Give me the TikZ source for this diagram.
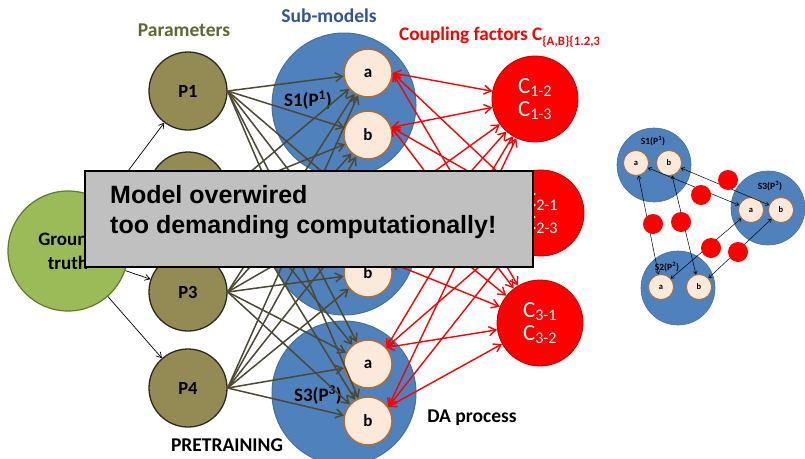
\documentclass[tikz,border=0pt]{standalone}
\usepackage{fontspec}
\setmainfont{Carlito}
\newfontfamily\arialfont{Liberation Sans}
\usetikzlibrary{arrows.meta}
\definecolor{gtfill}{HTML}{9BBB59}
\definecolor{gtdraw}{HTML}{5F7A2E}
\definecolor{pfill}{HTML}{948A54}
\definecolor{pdraw}{HTML}{2B2B22}
\definecolor{sfill}{HTML}{4F81BD}
\definecolor{sdraw}{HTML}{41719C}
\definecolor{subfill}{HTML}{FDE9D9}
\definecolor{subdraw}{HTML}{B46A2A}
\definecolor{olivelink}{HTML}{4D4832}
\definecolor{cdraw}{HTML}{C00000}
\definecolor{paramcol}{HTML}{5E6930}
\definecolor{subcol}{HTML}{2F5597}
\definecolor{boxfill}{HTML}{C0C0C0}
\tikzset{
  gtnode/.style={circle,fill=gtfill,draw=gtdraw,line width=1.2pt,minimum size=120pt,inner sep=0pt,font=\bfseries\fontsize{19}{24}\selectfont,align=center},
  pnode/.style={circle,fill=pfill,draw=pdraw,line width=1.3pt,minimum size=78pt,inner sep=0pt,font=\bfseries\fontsize{18.5}{20}\selectfont},
  smod/.style={circle,fill=sfill,draw=sdraw,line width=1pt,minimum size=144pt,inner sep=0pt},
  subnode/.style={circle,fill=subfill,draw=subdraw,line width=1.4pt,minimum size=48pt,inner sep=0pt,font=\bfseries\fontsize{17}{20}\selectfont},
  cnode/.style={circle,fill=red,draw=cdraw,line width=0.8pt,minimum size=86pt,inner sep=0pt,text=white,align=center,font=\fontsize{23}{23}\selectfont},
  slabel/.style={font=\bfseries\fontsize{19}{20}\selectfont,inner sep=0pt},
  oarrow/.style={draw=olivelink,line width=1.5pt,-{Straight Barb[length=7pt,width=9pt]}},
  rarrow/.style={draw=red,line width=1.4pt,{Straight Barb[length=7pt,width=9pt]}-{Straight Barb[length=7pt,width=9pt]}},
  garrow/.style={draw=black,line width=0.7pt,-{Straight Barb[length=5pt,width=6pt]}},
  rsmod/.style={circle,fill=sfill,draw=sdraw,line width=0.6pt,minimum size=74pt,inner sep=0pt},
  rsub/.style={circle,fill=subfill,draw=subdraw,line width=0.8pt,minimum size=25pt,inner sep=0pt,font=\bfseries\fontsize{8.5}{9}\selectfont},
  rdot/.style={circle,fill=red,draw=none,minimum size=20pt,inner sep=0pt},
  rlabel/.style={font=\bfseries\fontsize{9.5}{10}\selectfont,inner sep=0pt},
  rlink/.style={draw=black,line width=0.5pt,{Straight Barb[length=3pt,width=4pt]}-{Straight Barb[length=3pt,width=4pt]}},
  heading/.style={font=\bfseries\fontsize{19.5}{22}\selectfont,inner sep=0pt}
}
\begin{document}
\begin{tikzpicture}[x=1pt,y=-1pt]
\path[use as bounding box,fill=white] (0,0) rectangle (805,458);
% sub-model circles
\node[smod] (S1) at (344,105) {};
\node[smod] (S2) at (344,243) {};
\node[smod] (S3) at (344,393) {};
\node[slabel] (S1l) at (308,100) {S1(P\textsuperscript{1})};
\node[slabel] (S3l) at (318,395) {S3(P\textsuperscript{3})};
% sub nodes
\node[subnode] (S1a) at (368,73) {a};
\node[subnode] (S1b) at (368,135) {b};
\node[subnode] (S2a) at (368,211) {};
\node[subnode] (S2b) at (368,273) {b};
\node[subnode] (S3a) at (368,364) {a};
\node[subnode] (S3b) at (368,421) {b};
% parameters
\node[pnode] (P1) at (188,91) {P1};
\node[pnode] (P2) at (188,191) {};
\node[pnode] (P3) at (188,292) {P3};
\node[pnode] (P4) at (188,388) {P4};
% coupling nodes
\node[cnode] (C1) at (535,99) {C\textsubscript{1-2}\\C\textsubscript{1-3}};
\node[cnode] (C2) at (541,213) {C\textsubscript{2-1}\\C\textsubscript{2-3}};
\node[cnode] (C3) at (540,323) {C\textsubscript{3-1}\\C\textsubscript{3-2}};
% olive arrows
\foreach \p in {P1,P2,P3,P4}
  \foreach \s in {S1a,S1b,S2a,S2b,S3a,S3b}
    \draw[oarrow] (\p.east) -- (\s);
% red arrows
\foreach \s/\ang in {S1a/0,S1b/18,S2a/20,S2b/25,S3a/42,S3b/35}
  \foreach \c in {C1,C2,C3}
    \draw[rarrow] (\s.\ang) -- (\c);
% ground truth
\node[gtnode] (GT) at (68,251) {Ground\\truth};
\foreach \p in {P1,P2,P3,P4}
  \draw[garrow] (GT) -- (\p);
% headings
\node[heading,text=paramcol] (hpar) at (184,30) {Parameters};
\node[heading,text=subcol] (hsub) at (329,16) {Sub-models};
\begin{scope}
\clip (380,0) rectangle (598,60);
\node[heading,text=red,anchor=west,font=\bfseries\fontsize{19.2}{22}\selectfont] (hcoup) at (399,37) {Coupling factors C\raisebox{-4.5pt}{\fontsize{12.8}{14}\selectfont\{A,B\}\{1.2,3\}}};
\end{scope}
\node[heading,font=\bfseries\fontsize{19.5}{20}\selectfont] (hpre) at (227,445) {PRETRAINING};
\node[heading,font=\bfseries\fontsize{19.5}{20}\selectfont] (hda) at (472,418) {DA process};
% overlay box
\node[draw=black,line width=2.5pt,fill=boxfill,minimum width=448pt,minimum height=96pt,inner sep=0pt] (box) at (309,219) {};
\node[anchor=west,align=left,inner sep=0pt,font=\arialfont\bfseries\fontsize{25}{30}\selectfont] (boxtext) at (110,212) {Model overwired\\too demanding computationally!};
% right diagram
\node[rsmod] (R1) at (654,165) {};
\node[rsmod] (R3) at (768,208) {};
\node[rsmod] (R2) at (678,288) {};
\node[rlabel] (R1l) at (653,141) {S1(P\textsuperscript{1})};
\node[rlabel] (R3l) at (770,186) {S3(P\textsuperscript{3})};
\node[rlabel] (R2l) at (667,267) {S2(P\textsuperscript{2})};
\node[rsub] (R1a) at (636,163) {a};
\node[rsub] (R1b) at (669,163) {b};
\node[rsub] (R3a) at (751,210) {a};
\node[rsub] (R3b) at (781,210) {b};
\node[rsub] (R2a) at (661,287) {a};
\node[rsub] (R2b) at (699,287) {b};
\draw[rlink] (R1b) -- (R3b);
\draw[rlink] (R1a) -- (R3a);
\draw[rlink] (R1a) -- (R2a);
\draw[rlink] (R1b) -- (R2b);
\draw[rlink] (R2a) -- (R3a);
\draw[rlink] (R2b) -- (R3b);
\node[rdot] (D1) at (728,180) {};
\node[rdot] (D2) at (701,195) {};
\node[rdot] (D3) at (653,224) {};
\node[rdot] (D4) at (681,222) {};
\node[rdot] (D5) at (711,248) {};
\node[rdot] (D6) at (738,252) {};
\end{tikzpicture}
\end{document}
